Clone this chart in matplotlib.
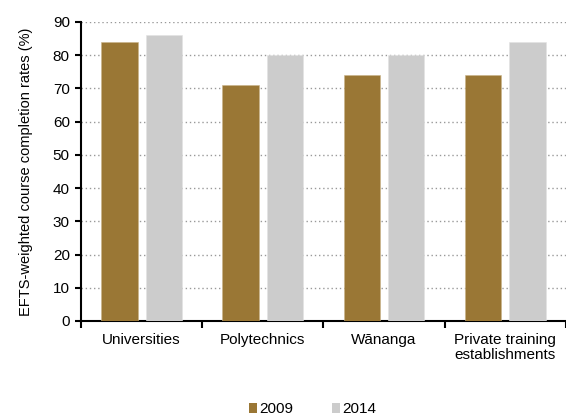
import matplotlib
matplotlib.use("Agg")
import matplotlib.pyplot as plt
from matplotlib.patches import Patch
import numpy as np

categories = ["Universities", "Polytechnics", "W\u0101nanga", "Private training\nestablishments"]
years = ["2009", "2014"]
rates_2009 = [84, 71, 74, 74]
rates_2014 = [86, 80, 80, 84]
y_ticks = [0, 10, 20, 30, 40, 50, 60, 70, 80, 90]

plt.rcParams["font.family"] = ["Liberation Sans", "DejaVu Sans"]
plt.rcParams["font.size"] = 11

c2009 = "#9a7735"
c2014 = "#cccccc"

fig = plt.figure(figsize=(5.66, 4.19), dpi=100)
ax = fig.add_axes([0.143, 0.234, 0.857, 0.7135])

x = np.arange(len(categories))
w = 0.30
off = 0.183
ax.bar(x - off, rates_2009, w, color=c2009, edgecolor="#c9b48a", linewidth=0.4, zorder=3)
ax.bar(x + off, rates_2014, w, color=c2014, edgecolor="#e2e2e2", linewidth=0.4, zorder=3)

ax.set_xlim(-0.5, 3.5)
ax.set_ylim(0, 90)
ax.set_yticks(y_ticks)
ax.yaxis.grid(True, linestyle=(0, (1, 2)), color="#999999", linewidth=1.0, zorder=0)
ax.set_axisbelow(True)

# category boundaries carry the ticks, labels sit at the centres
ax.set_xticks(np.arange(len(categories) + 1) - 0.5)
ax.set_xticklabels([])
ax.set_xticks(x, minor=True)
ax.set_xticklabels(categories, minor=True, linespacing=1.05)
ax.tick_params(axis="x", which="minor", length=0, pad=9)
ax.tick_params(axis="x", which="major", length=5, width=1.5, direction="out", color="black")
ax.tick_params(axis="y", length=4, width=1.5, direction="out", pad=4)

for s in ["top", "right"]:
    ax.spines[s].set_visible(False)
for s in ["left", "bottom"]:
    ax.spines[s].set_linewidth(1.5)
    ax.spines[s].set_color("black")

ax.set_ylabel("EFTS-weighted course completion rates (%)", fontsize=10.5, labelpad=14)

handles = [Patch(facecolor=c2009, edgecolor="none"), Patch(facecolor=c2014, edgecolor="none")]
fig.legend(handles, years, loc="center", bbox_to_anchor=(0.552, 0.023), ncol=2,
           frameon=False, handlelength=0.55, handleheight=0.7, handletextpad=0.15,
           columnspacing=2.5, borderaxespad=0)

fig.savefig("out.png", dpi=100)
